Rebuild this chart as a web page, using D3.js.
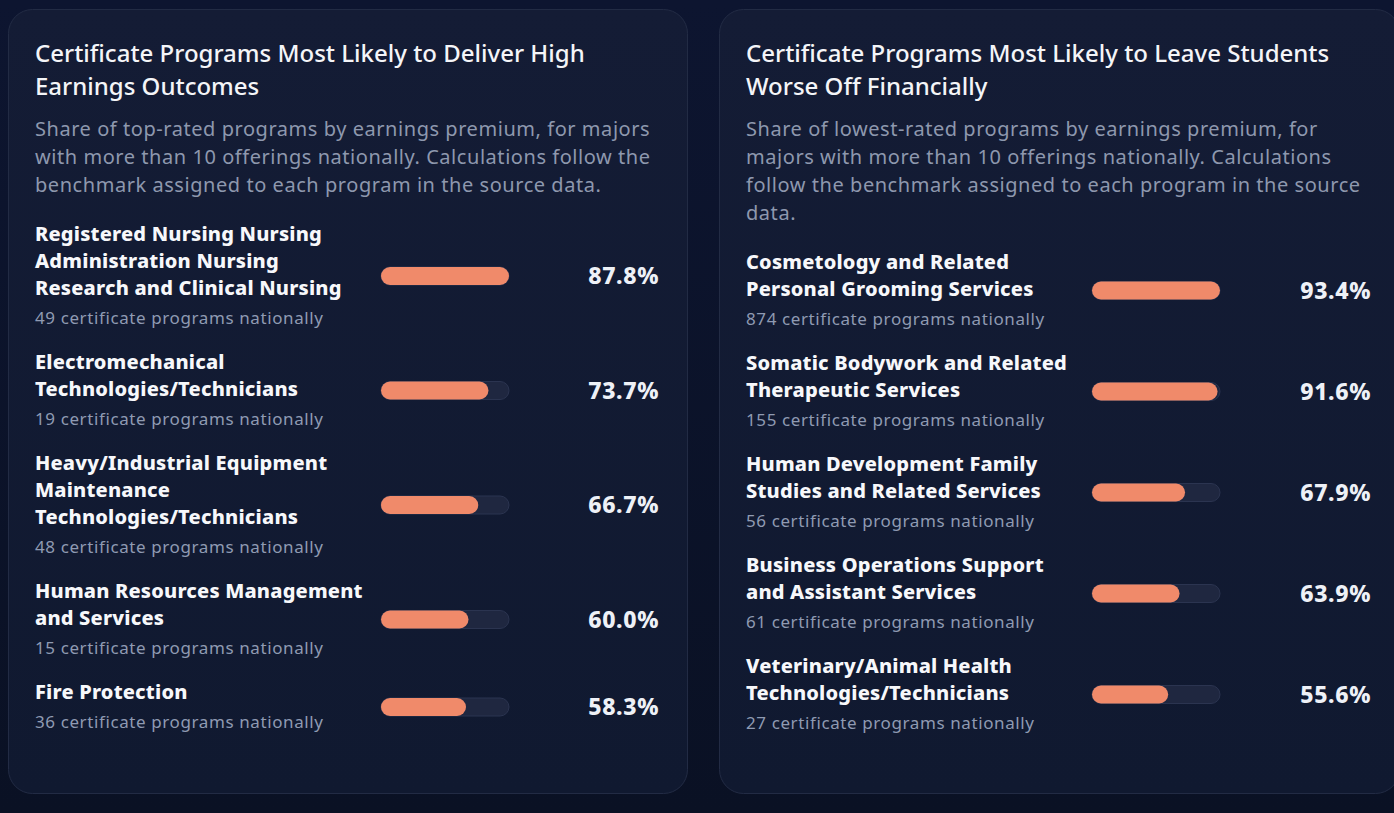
<!DOCTYPE html>
<html lang="en">
<head>
    <meta charset="UTF-8">
    <title>Certificate Programs Earnings Outcomes</title>
    <script src="https://d3js.org/d3.v7.min.js"></script>
    <style>
        html, body { margin: 0; padding: 0; background: #0b1227; }
        body { font-family: "Noto Sans", Lato, sans-serif; }
        svg { display: block; }
        .title { fill: #f4f5f8; font-size: 24px; font-weight: 500; }
        .subtitle { fill: #8e98ae; font-size: 20px; letter-spacing: 0.55px; }
        .label { fill: #f7f8fb; font-size: 20px; font-weight: 800; letter-spacing: 0.2px; }
        .count { fill: #8f9ab2; font-size: 17px; letter-spacing: 0.6px; }
        .value { fill: #eef1f7; font-size: 23px; font-weight: 800; letter-spacing: 0.6px; }
        .track { fill: #1f2740; stroke: #2b3450; stroke-width: 1; }
        .fill { fill: #f08a6a; }
    </style>
</head>
<body>
    <svg width="1394" height="813"></svg>
    <script>
        // ---- data ----
        const leftTitle = ["Certificate Programs Most Likely to Deliver High", "Earnings Outcomes"];
        const leftSubtitle = [
            "Share of top-rated programs by earnings premium, for majors",
            "with more than 10 offerings nationally. Calculations follow the",
            "benchmark assigned to each program in the source data."
        ];
        const leftLabels = [
            ["Registered Nursing Nursing", "Administration Nursing", "Research and Clinical Nursing"],
            ["Electromechanical", "Technologies/Technicians"],
            ["Heavy/Industrial Equipment", "Maintenance", "Technologies/Technicians"],
            ["Human Resources Management", "and Services"],
            ["Fire Protection"]
        ];
        const leftCounts = [49, 19, 48, 15, 36];
        const leftValues = [87.8, 73.7, 66.7, 60.0, 58.3];

        const rightTitle = ["Certificate Programs Most Likely to Leave Students", "Worse Off Financially"];
        const rightSubtitle = [
            "Share of lowest-rated programs by earnings premium, for",
            "majors with more than 10 offerings nationally. Calculations",
            "follow the benchmark assigned to each program in the source",
            "data."
        ];
        const rightLabels = [
            ["Cosmetology and Related", "Personal Grooming Services"],
            ["Somatic Bodywork and Related", "Therapeutic Services"],
            ["Human Development Family", "Studies and Related Services"],
            ["Business Operations Support", "and Assistant Services"],
            ["Veterinary/Animal Health", "Technologies/Technicians"]
        ];
        const rightCounts = [874, 155, 56, 61, 27];
        const rightValues = [93.4, 91.6, 67.9, 63.9, 55.6];

        const svg = d3.select("svg");

        const defs = svg.append("defs");
        const bg = defs.append("linearGradient").attr("id", "pagebg")
            .attr("x1", 0).attr("y1", 0).attr("x2", 0).attr("y2", 1);
        bg.append("stop").attr("offset", "0%").attr("stop-color", "#0d1530");
        bg.append("stop").attr("offset", "100%").attr("stop-color", "#0a1124");
        const cardbg = defs.append("linearGradient").attr("id", "cardbg")
            .attr("x1", 0).attr("y1", 0).attr("x2", 0).attr("y2", 1);
        cardbg.append("stop").attr("offset", "0%").attr("stop-color", "#141c35");
        cardbg.append("stop").attr("offset", "100%").attr("stop-color", "#101930");

        svg.append("rect").attr("width", 1394).attr("height", 813).attr("fill", "url(#pagebg)");

        const lineH = 27;      // label line height
        const barW = 128, barH = 18;

        function drawCard(cfg) {
            const g = svg.append("g").attr("transform", `translate(${cfg.x},9)`);

            g.append("rect")
                .attr("x", 0.5).attr("y", 0.5)
                .attr("width", cfg.w).attr("height", 784)
                .attr("rx", 24)
                .attr("fill", "url(#cardbg)")
                .attr("stroke", "#222b44");

            const pad = 27;

            // title
            g.selectAll("text.title").data(cfg.title).join("text")
                .attr("class", "title")
                .attr("x", pad)
                .attr("y", (d, i) => 53 + i * 33)
                .text(d => d);

            // subtitle
            g.selectAll("text.subtitle").data(cfg.subtitle).join("text")
                .attr("class", "subtitle")
                .attr("x", pad)
                .attr("y", (d, i) => 127 + i * 28)
                .text(d => d);

            // row layout
            let y = 127 + (cfg.subtitle.length - 1) * 28 + 49;
            const rows = cfg.labels.map((lines, i) => {
                const r = { lines, count: cfg.counts[i], value: cfg.values[i], y0: y };
                y += lines.length * lineH + 47;
                return r;
            });

            const x = d3.scaleLinear()
                .domain([0, d3.max(cfg.values)])
                .range([0, barW]);

            const barX = cfg.barX;
            const valueX = cfg.w - 28;

            const row = g.selectAll("g.row").data(rows).join("g")
                .attr("class", "row")
                .attr("transform", d => `translate(0,${d.y0})`);

            row.each(function (d) {
                const rg = d3.select(this);
                rg.selectAll("text.label").data(d.lines).join("text")
                    .attr("class", "label")
                    .attr("x", pad)
                    .attr("y", (l, j) => j * lineH)
                    .text(l => l);

                const subY = (d.lines.length - 1) * lineH + 29;
                rg.append("text")
                    .attr("class", "count")
                    .attr("x", pad)
                    .attr("y", subY)
                    .text(`${d.count} certificate programs nationally`);

                const cy = (-19 + subY + 6) / 2;

                rg.append("rect")
                    .attr("class", "track")
                    .attr("x", barX).attr("y", cy - barH / 2)
                    .attr("width", barW).attr("height", barH)
                    .attr("rx", barH / 2);

                rg.append("rect")
                    .attr("class", "fill")
                    .attr("x", barX).attr("y", cy - barH / 2)
                    .attr("width", x(d.value)).attr("height", barH)
                    .attr("rx", barH / 2);

                rg.append("text")
                    .attr("class", "value")
                    .attr("x", valueX)
                    .attr("y", cy)
                    .attr("dy", "0.36em")
                    .attr("text-anchor", "end")
                    .text(d3.format(".1f")(d.value) + "%");
            });
        }

        drawCard({ x: 8, w: 679, barX: 373, title: leftTitle, subtitle: leftSubtitle,
                   labels: leftLabels, counts: leftCounts, values: leftValues });
        drawCard({ x: 719, w: 680, barX: 373, title: rightTitle, subtitle: rightSubtitle,
                   labels: rightLabels, counts: rightCounts, values: rightValues });
    </script>
</body>
</html>
